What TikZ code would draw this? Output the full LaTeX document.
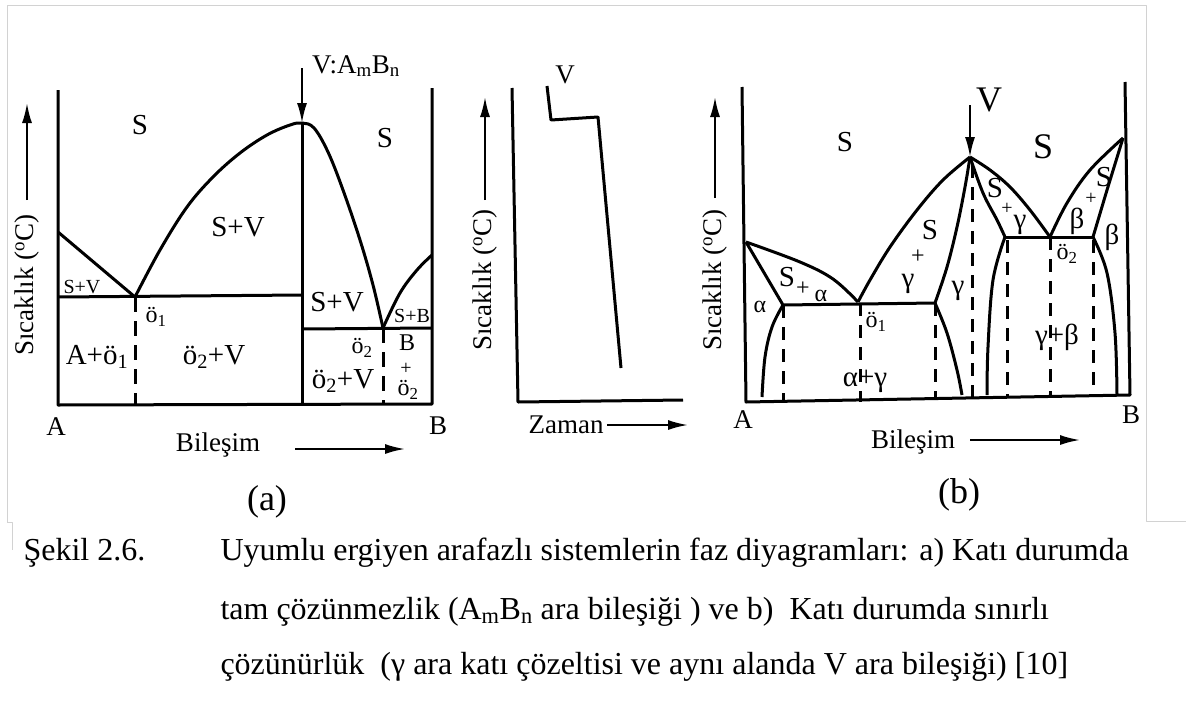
\documentclass[tikz,border=0pt]{standalone}
\usepackage{fontspec}
\setmainfont{Liberation Serif}
\usetikzlibrary{arrows.meta,calc}

\begin{document}
\begin{tikzpicture}[x=1pt,y=-1pt,line width=3pt,line join=round,
  axarrow/.style={line width=2pt,-{Latex[length=20pt,width=10pt]}},
  eutline/.style={line width=3pt,dash pattern=on 15pt off 9pt},
  lbl/.style={inner sep=0pt,font=\fontsize{29}{31}\selectfont},
  sml/.style={inner sep=0pt,font=\fontsize{20}{22}\selectfont},
  mid/.style={inner sep=0pt,font=\fontsize{24}{26}\selectfont},
  axl/.style={inner sep=0pt,font=\fontsize{27}{29}\selectfont},
  big/.style={inner sep=0pt,font=\fontsize{36}{38}\selectfont},
  caption/.style={inner sep=0pt,anchor=west,font=\fontsize{32}{34}\selectfont}]
  \useasboundingbox (0,0) rectangle (1186,707);
  % screenshot frame
  \draw[gray!35,line width=0.8pt] (7,522) -- (7,5) -- (1146,5) -- (1146,521) -- (1186,521);
  \draw[gray!35,line width=0.8pt] (7,522) -- (12,522) -- (12,550);

  % ---------------- (a) ----------------
  \coordinate (aA) at (58,405);
  \coordinate (aB) at (432,404);
  \coordinate (aV) at (302,123);
  \coordinate (ae1) at (135,297);
  \coordinate (ae2) at (383,328);
  \draw (58,90) -- (aA) -- (aB) -- (432,88);
  \draw (aV) -- (302,405);
  \draw (58,232) -- (ae1);
  \draw plot[smooth,tension=0.6] coordinates {(ae1) (160,250) (187,207) (213,177)
    (240,153) (267,135) (290,125) (aV) (314,128) (328,152) (343,190) (360,240)
    (373,285) (ae2)};
  \draw plot[smooth,tension=0.6] coordinates {(ae2) (400,293) (417,270) (432,255)};
  \draw (58,297) -- (302,295);
  \draw (302,329) -- (432,328);
  \draw[eutline] (ae1) -- (135,405);
  \draw[eutline] (ae2) -- (383,404);
  \draw[axarrow] (302,68) -- (aV);
  \draw[axarrow] (27,200) -- (27,103);
  \draw[axarrow] (295,449) -- (405,449);
  %
  % Annotations
  \node[lbl] (aS1) at (140,125) {S};
  \node[lbl] (aS2) at (385,138) {S};
  \node[lbl] (aSV1) at (238,227) {S+V};
  \node[sml] (aSV2) at (82,287) {S+V};
  \node[mid] (ao1) at (156,317) {ö\textsubscript{1}};
  \node[lbl] (aAo1) at (97,357) {A+ö\textsubscript{1}};
  \node[lbl] (ao2V) at (214,357) {ö\textsubscript{2}+V};
  \node[lbl] (aSV3) at (337,302) {S+V};
  \node[sml] (aSB) at (412,316) {S+B};
  \node[mid] (ao2) at (362,348) {ö\textsubscript{2}};
  \node[mid] (aBl) at (407,343) {B};
  \node[sml] (apl) at (406,369) {+};
  \node[mid] (ao2b) at (408,390) {ö\textsubscript{2}};
  \node[lbl] (ao2V2) at (343,381) {ö\textsubscript{2}+V};
  \node[axl] (aVAB) at (356,66) {V:A\textsubscript{m}B\textsubscript{n}};
  \node[axl] (aAl) at (56,427) {A};
  \node[axl] (aBk) at (438,426) {B};
  \node[axl] (abil) at (218,445) {Bileşim};
  \node[big] (acap) at (267,502) {(a)};
  \node[axl,rotate=90] (aT) at (27,285) {Sıcaklık (\textsuperscript{o}C)};

  % ---------------- cooling curve ----------------
  \draw (512,88) -- (518,402) -- (683,400);
  \draw (547,86) -- (551,120) -- (598,117) -- (621,368);
  \draw[axarrow] (485,200) -- (485,97);
  \draw[axarrow] (607,425) -- (688,425);
  \node[axl] (cV) at (565,75) {V};
  \node[axl,rotate=90] (cT) at (485,280) {Sıcaklık (\textsuperscript{o}C)};
  \node[axl] (czam) at (566,425) {Zaman};

  % ---------------- (b) ----------------
  \coordinate (bA) at (746,402);
  \coordinate (bB) at (1130,395);
  \coordinate (bAm) at (746,242);
  \coordinate (bBm) at (1123,138);
  \coordinate (bV) at (970,157);
  \coordinate (bal) at (783,305);
  \coordinate (be1) at (858,302);
  \coordinate (bgl) at (935,303);
  \coordinate (bgr) at (1005,237);
  \coordinate (be2) at (1050,237);
  \coordinate (bbe) at (1093,237);
  \draw (742,87) -- (bA) -- (bB) -- (1125,82);
  \draw plot[smooth,tension=0.6] coordinates {(bAm) (800,262) (833,279) (be1)};
  \draw (bAm) -- (bal) -- (bgl);
  \draw plot[smooth,tension=0.6] coordinates {(be1) (870,280) (890,247) (917,210) (943,180) (bV)};
  \draw plot[smooth,tension=0.6] coordinates {(bgl) (947,267) (957,227) (965,187) (bV)};
  \draw plot[smooth,tension=0.6] coordinates {(bgl) (947,333) (957,370) (962,395)};
  \draw plot[smooth,tension=0.6] coordinates {(bal) (772,327) (765,357) (762,397)};
  \draw plot[smooth,tension=0.6] coordinates {(bV) (990,170) (1010,187) (1030,210) (be2)};
  \draw plot[smooth,tension=0.6] coordinates {(bV) (983,193) (997,220) (bgr)};
  \draw (bgr) -- (bbe);
  \draw plot[smooth,tension=0.6] coordinates {(bgr) (993,280) (988,347) (987,395)};
  \draw plot[smooth,tension=0.6] coordinates {(bbe) (1107,273) (1115,333) (1117,395)};
  \draw plot[smooth,tension=0.6] coordinates {(be2) (1067,203) (1090,170) (bBm)};
  \draw (bBm) -- (1107,190) -- (bbe);
  \foreach \x/\yt/\yb in {783/305/402,860/303/402,935/303/400,972/165/399,1007/240/397,1050/237/397,1093/240/396}{
    \draw[eutline,dash pattern=on 13pt off 9pt] (\x,\yt) -- (\x,\yb);
  }
  \draw[axarrow] (970,105) -- (bV);
  \draw[axarrow] (715,198) -- (715,97);
  \draw[axarrow] (970,440) -- (1080,440);
  %
  % Annotations
  \node[big] (bVl) at (989,100) {V};
  \node[lbl] (bS1) at (845,142) {S};
  \node[big] (bS2) at (1043,147) {S};
  \node[lbl] (bSa1) at (787,277) {S};
  \node[mid] (bSa2) at (803,289) {+};
  \node[mid] (bSa3) at (821,296) {α};
  \node[mid] (bal1) at (760,307) {α};
  \node[mid] (bo1) at (876,322) {ö\textsubscript{1}};
  \node[lbl] (bag) at (865,381) {α+γ};
  \node[lbl] (bSg1) at (930,230) {S};
  \node[mid] (bSg2) at (918,257) {+};
  \node[lbl] (bSg3) at (908,284) {γ};
  \node[lbl] (bg) at (958,291) {γ};
  \node[lbl] (bSr1) at (995,188) {S};
  \node[sml] (bSr2) at (1007,209) {+};
  \node[lbl] (bSr3) at (1020,225) {γ};
  \node[lbl] (bb1) at (1077,221) {β};
  \node[sml] (bb2) at (1091,199) {+};
  \node[lbl] (bb3) at (1104,177) {S};
  \node[lbl] (bb4) at (1112,237) {β};
  \node[mid] (bo2) at (1067,254) {ö\textsubscript{2}};
  \node[lbl] (bgb) at (1057,337) {γ+β};
  \node[axl] (bAl) at (743,420) {A};
  \node[axl] (bBl) at (1131,415) {B};
  \node[axl] (bbil) at (913,442) {Bileşim};
  \node[big] (bcap) at (959,495) {(b)};
  \node[axl,rotate=90] (bT) at (715,280) {Sıcaklık (\textsuperscript{o}C)};

  % ---------------- caption ----------------
  \node[caption] (capno) at (22,553) {Şekil 2.6.};
  \node[caption] (cap1) at (219,553) {Uyumlu ergiyen arafazlı sistemlerin faz diyagramları: a) Katı durumda};
  \node[caption] (cap2) at (219,612) {tam çözünmezlik (A\textsubscript{m}B\textsubscript{n} ara bileşiği ) ve b)\ \ Katı durumda sınırlı};
  \node[caption] (cap3) at (219,667) {çözünürlük\ \ (γ ara katı çözeltisi ve aynı alanda V ara bileşiği) [10]};
\end{tikzpicture}
\end{document}
